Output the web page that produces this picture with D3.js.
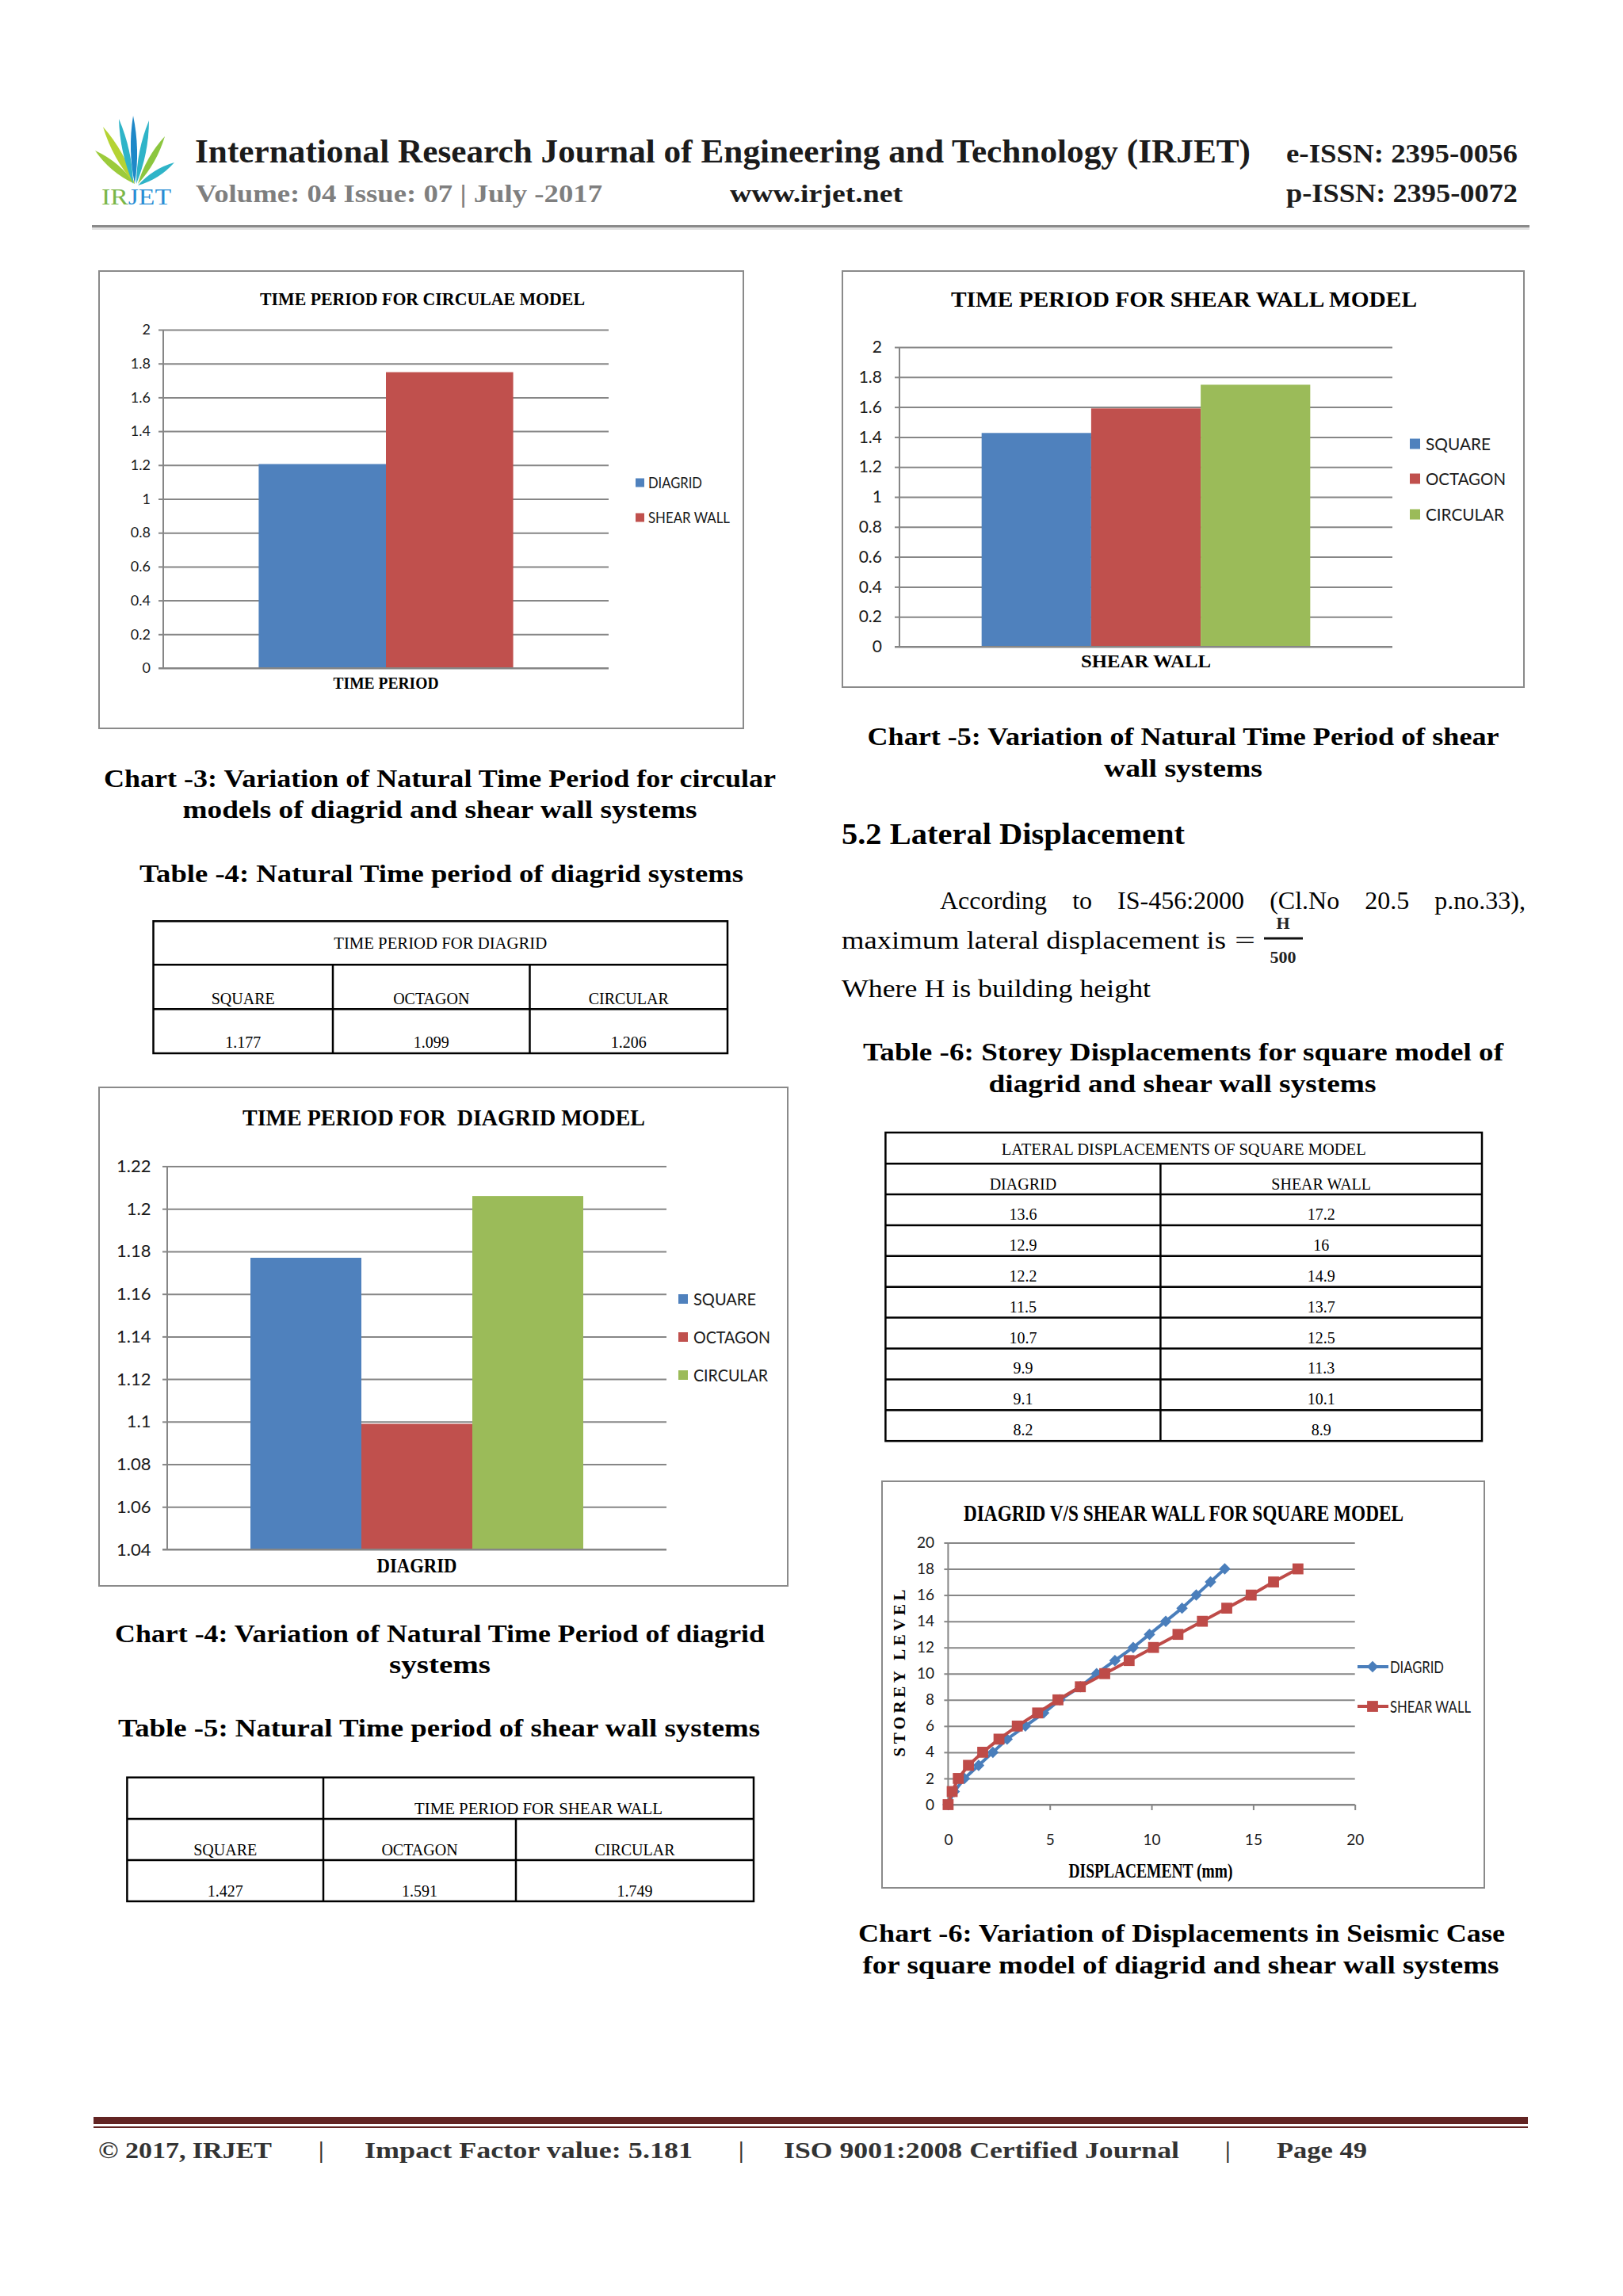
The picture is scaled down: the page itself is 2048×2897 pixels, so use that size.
<!DOCTYPE html>
<html><head><meta charset="utf-8">
<script src="https://cdn.jsdelivr.net/npm/d3@7"></script>
<style>
html,body{margin:0;padding:0;background:#fff;}
svg{display:block;}
text{white-space:pre;}
</style></head><body>
<svg id="page" width="2048" height="2897"></svg>
<script>
// ---------------- DATA ----------------
const circularCategories = ["TIME PERIOD"];
const circularSeries = ["DIAGRID", "SHEAR WALL"];
const circularValues = [1.206, 1.749];
const timeTicks = [0, 0.2, 0.4, 0.6, 0.8, 1, 1.2, 1.4, 1.6, 1.8, 2];

const shapeSeries = ["SQUARE", "OCTAGON", "CIRCULAR"];
const shearWallCategories = ["SHEAR WALL"];
const shearWallValues = [1.427, 1.591, 1.749];

const diagridCategories = ["DIAGRID"];
const diagridValues = [1.177, 1.099, 1.206];
const diagridTicks = [1.04, 1.06, 1.08, 1.1, 1.12, 1.14, 1.16, 1.18, 1.2, 1.22];

const storeyLevels = [0, 1, 2, 3, 4, 5, 6, 7, 8, 9, 10, 11, 12, 13, 14, 15, 16, 17, 18];
const diagridDisp = [0, 0.3, 0.8, 1.5, 2.2, 2.9, 3.8, 4.7, 5.5, 6.5, 7.3, 8.2, 9.1, 9.9, 10.7, 11.5, 12.2, 12.9, 13.6];
const shearWallDisp = [0, 0.2, 0.5, 1.0, 1.7, 2.5, 3.4, 4.4, 5.4, 6.5, 7.7, 8.9, 10.1, 11.3, 12.5, 13.7, 14.9, 16, 17.2];
const dispTicks = [0, 5, 10, 15, 20];
const storeyTicks = [0, 2, 4, 6, 8, 10, 12, 14, 16, 18, 20];
const lineSeries = ["DIAGRID", "SHEAR WALL"];

const table4Title = "TIME PERIOD FOR DIAGRID";
const table4Values = ["1.177", "1.099", "1.206"];
const table5Title = "TIME PERIOD FOR SHEAR WALL";
const table5Values = ["1.427", "1.591", "1.749"];
const table6Title = "LATERAL DISPLACEMENTS OF SQUARE MODEL";
const table6Diagrid = ["13.6", "12.9", "12.2", "11.5", "10.7", "9.9", "9.1", "8.2"];
const table6Shear = ["17.2", "16", "14.9", "13.7", "12.5", "11.3", "10.1", "8.9"];

// ---------------- STYLE ----------------
const SERIF = "'Liberation Serif','Times New Roman',serif";
const SANS = "Lato,'Liberation Sans',sans-serif";
const BAR_COLORS = ["#4f81bd", "#c0504d", "#9bbb59"];
const GRID = "#868686";

const svg = d3.select("#page");
svg.append("rect").attr("width", 2048).attr("height", 2897).attr("fill", "#fff");

function T(parent, str, x, y, o = {}) {
  const t = parent.append("text").attr("x", x).attr("y", y).text(str)
    .attr("font-family", o.font || SERIF).attr("font-size", o.size || 20)
    .attr("font-weight", o.bold ? "bold" : "normal").attr("fill", o.fill || "#000")
    .attr("text-anchor", o.anchor || "start");
  if (o.w) t.attr("textLength", o.w).attr("lengthAdjust", o.adjust || "spacingAndGlyphs");
  return t;
}

// ---------------- HEADER ----------------
const hdr = svg.append("g");
function leaf(bx, by, tx, ty, w, color) {
  const mx = (bx + tx) / 2, my = (by + ty) / 2;
  const dx = tx - bx, dy = ty - by, len = Math.hypot(dx, dy);
  const nx = -dy / len * w, ny = dx / len * w;
  hdr.append("path").attr("d", `M${bx},${by} Q${mx + nx},${my + ny} ${tx},${ty} Q${mx - nx},${my - ny} ${bx},${by}Z`).attr("fill", color);
}
leaf(170, 232, 120, 190, 9, "#9ccb3b");
leaf(170, 232, 130, 160, 9, "#b5d334");
leaf(168, 232, 150, 150, 8, "#2fb4c8");
leaf(170, 232, 168, 146, 8, "#1e88c8");
leaf(172, 232, 188, 152, 8, "#2fb4c8");
leaf(174, 232, 208, 172, 8, "#8cc63e");
leaf(174, 234, 220, 205, 8, "#2fb4c8");
const logoT = hdr.append("text").attr("x", 128).attr("y", 258).attr("font-family", SERIF).attr("font-size", 30).attr("textLength", 88).attr("lengthAdjust", "spacingAndGlyphs");
logoT.append("tspan").text("IR").attr("fill", "#7ab648");
logoT.append("tspan").text("JET").attr("fill", "#2a8dd4");

T(hdr, "International Research Journal of Engineering and Technology (IRJET)", 246, 205, {bold: true, size: 42, w: 1332, fill: "#1b1b1b"});
T(hdr, "e-ISSN: 2395-0056", 1623, 205, {bold: true, size: 33, w: 292, fill: "#1b1b1b"});
T(hdr, "Volume: 04 Issue: 07 | July -2017", 247, 255, {bold: true, size: 32, w: 513, fill: "#7f7f7f"});
T(hdr, "www.irjet.net", 921, 255, {bold: true, size: 32, w: 218, fill: "#1b1b1b"});
T(hdr, "p-ISSN: 2395-0072", 1623, 255, {bold: true, size: 33, w: 292, fill: "#1b1b1b"});
hdr.append("rect").attr("x", 116).attr("y", 287).attr("width", 1814).attr("height", 3).attr("fill", "#e3e3e3");
hdr.append("rect").attr("x", 116).attr("y", 284).attr("width", 1814).attr("height", 3).attr("fill", "#8a8a8a");

// ---------------- BAR CHARTS ----------------
function barChart(c) {
  const g = svg.append("g");
  g.append("rect").attr("x", c.box[0]).attr("y", c.box[1]).attr("width", c.box[2] - c.box[0]).attr("height", c.box[3] - c.box[1])
    .attr("fill", "#fff").attr("stroke", "#8a8a8a").attr("stroke-width", 2);
  const y = d3.scaleLinear().domain([c.ticks[0], c.ticks[c.ticks.length - 1]]).range([c.yBottom, c.yTop]);
  const xCat = d3.scaleBand().domain(c.categories).range([c.x0, c.x1]);
  const xSer = d3.scaleBand().domain(c.series).range([0, xCat.bandwidth()]).paddingInner(0).paddingOuter(0.75);
  g.append("g").attr("transform", `translate(${c.x0},0)`)
    .call(d3.axisLeft(y).tickValues(c.ticks).tickSize(-(c.x1 - c.x0)).tickFormat(""))
    .call(s => { s.select(".domain").remove(); s.selectAll("line").attr("stroke", GRID).attr("stroke-width", 2); });
  g.append("g").attr("transform", `translate(${c.x0},0)`)
    .call(d3.axisLeft(y).tickValues(c.ticks).tickSize(6).tickPadding(c.x0 - 6 - c.labelX).tickFormat(d => String(d)))
    .call(s => {
      s.select(".domain").remove();
      s.selectAll("line").attr("stroke", GRID).attr("stroke-width", 2);
      s.selectAll("text").attr("font-family", SANS).attr("font-size", c.tickSize).attr("fill", "#1a1a1a");
    });
  const rows = c.series.map((s, i) => ({s, v: c.values[i], cat: c.categories[0], i}));
  g.selectAll("rect.bar").data(rows).join("rect").attr("class", "bar")
    .attr("x", d => xCat(d.cat) + xSer(d.s)).attr("width", xSer.bandwidth())
    .attr("y", d => y(d.v)).attr("height", d => y(c.ticks[0]) - y(d.v))
    .attr("fill", d => BAR_COLORS[d.i]);
  g.append("line").attr("x1", c.x0).attr("x2", c.x0).attr("y1", c.yTop).attr("y2", c.yBottom).attr("stroke", GRID).attr("stroke-width", 2);
  g.append("line").attr("x1", c.x0 - 6).attr("x2", c.x1).attr("y1", c.yBottom).attr("y2", c.yBottom).attr("stroke", GRID).attr("stroke-width", 2);
  T(g, c.title, c.titleX, c.titleY, {bold: true, size: c.titleSize, w: c.titleW, anchor: "middle"});
  T(g, c.categories[0], xCat(c.categories[0]) + xCat.bandwidth() / 2, c.xLabelY, {bold: true, size: c.xLabelSize, w: c.xLabelW, anchor: "middle"});
  c.series.forEach((s, i) => {
    const cy = c.legendY[i];
    g.append("rect").attr("x", c.legendX).attr("y", cy - c.legendSq / 2).attr("width", c.legendSq).attr("height", c.legendSq).attr("fill", BAR_COLORS[i]);
    T(g, s, c.legendTextX, cy + c.legendSize * 0.36, {font: SANS, size: c.legendSize, w: c.legendW[i], fill: "#1a1a1a"});
  });
}

barChart({
  box: [125, 342, 938, 919], x0: 206, x1: 768, yTop: 416, yBottom: 843,
  ticks: timeTicks, labelX: 190, tickSize: 18,
  categories: circularCategories, series: circularSeries, values: circularValues,
  title: "TIME PERIOD FOR CIRCULAE MODEL", titleX: 533, titleY: 385, titleSize: 24, titleW: 410,
  xLabelY: 869, xLabelSize: 22, xLabelW: 133,
  legendX: 802, legendTextX: 818, legendY: [609, 653], legendSq: 11, legendSize: 19, legendW: [68, 103]
});

barChart({
  box: [1063, 342, 1923, 867], x0: 1135, x1: 1757, yTop: 438, yBottom: 816,
  ticks: timeTicks, labelX: 1113, tickSize: 21,
  categories: shearWallCategories, series: shapeSeries, values: shearWallValues,
  title: "TIME PERIOD FOR SHEAR WALL MODEL", titleX: 1494, titleY: 387, titleSize: 28, titleW: 588,
  xLabelY: 842, xLabelSize: 23, xLabelW: 164,
  legendX: 1779, legendTextX: 1799, legendY: [560, 604, 649], legendSq: 13, legendSize: 21, legendW: [82, 101, 99]
});

barChart({
  box: [125, 1372, 994, 2001], x0: 211, x1: 841, yTop: 1471.5, yBottom: 1955,
  ticks: diagridTicks, labelX: 190.5, tickSize: 22,
  categories: diagridCategories, series: shapeSeries, values: diagridValues,
  title: "TIME PERIOD FOR  DIAGRID MODEL", titleX: 560, titleY: 1420, titleSize: 29, titleW: 508,
  xLabelY: 1984, xLabelSize: 25, xLabelW: 101,
  legendX: 856, legendTextX: 875, legendY: [1639, 1687, 1735], legendSq: 12, legendSize: 21, legendW: [79, 97, 94]
});

// ---------------- LINE CHART ----------------
(function () {
  const g = svg.append("g");
  g.append("rect").attr("x", 1113).attr("y", 1869).attr("width", 760).attr("height", 513).attr("fill", "#fff").attr("stroke", "#8a8a8a").attr("stroke-width", 2);
  const x = d3.scaleLinear().domain([dispTicks[0], dispTicks[dispTicks.length - 1]]).range([1196.4, 1709.7]);
  const y = d3.scaleLinear().domain([storeyTicks[0], storeyTicks[storeyTicks.length - 1]]).range([2277, 1946.5]);
  g.append("g").attr("transform", `translate(${x(0)},0)`)
    .call(d3.axisLeft(y).tickValues(storeyTicks).tickSize(-(x(20) - x(0))).tickFormat(""))
    .call(s => { s.select(".domain").remove(); s.selectAll("line").attr("stroke", GRID).attr("stroke-width", 2); });
  g.append("g").attr("transform", `translate(${x(0)},0)`)
    .call(d3.axisLeft(y).tickValues(storeyTicks).tickSize(5).tickPadding(x(0) - 5 - 1179).tickFormat(d => String(d)))
    .call(s => {
      s.select(".domain").remove();
      s.selectAll("line").attr("stroke", GRID).attr("stroke-width", 2);
      s.selectAll("text").attr("font-family", SANS).attr("font-size", 19).attr("fill", "#1a1a1a");
    });
  g.append("g").attr("transform", `translate(0,${y(0)})`)
    .call(d3.axisBottom(x).tickValues(dispTicks).tickSize(7).tickPadding(2328 - 2277 - 7 - 0.71 * 19).tickFormat(d => String(d)))
    .call(s => {
      s.select(".domain").remove();
      s.selectAll("line").attr("stroke", GRID).attr("stroke-width", 2);
      s.selectAll("text").attr("font-family", SANS).attr("font-size", 19).attr("fill", "#1a1a1a");
    });
  g.append("line").attr("x1", x(0)).attr("x2", x(0)).attr("y1", y(20)).attr("y2", y(0)).attr("stroke", GRID).attr("stroke-width", 2);
  g.append("line").attr("x1", x(0) - 5).attr("x2", x(20)).attr("y1", y(0)).attr("y2", y(0)).attr("stroke", GRID).attr("stroke-width", 2);

  const LC = ["#4a7ebb", "#be4b48"];
  const series = [diagridDisp, shearWallDisp];
  const line = d3.line().x(d => x(d[0])).y(d => y(d[1]));
  const diamond = d3.symbol(d3.symbolSquare, 105);
  const square = d3.symbol(d3.symbolSquare, 190);
  series.forEach((vals, si) => {
    const pts = vals.map((v, i) => [v, storeyLevels[i]]);
    g.append("path").attr("d", line(pts)).attr("fill", "none").attr("stroke", LC[si]).attr("stroke-width", 4).attr("stroke-linejoin", "round");
    g.selectAll(null).data(pts).join("path")
      .attr("d", si === 0 ? diamond() : square())
      .attr("transform", d => `translate(${x(d[0])},${y(d[1])})` + (si === 0 ? " rotate(45)" : ""))
      .attr("fill", LC[si]);
  });
  const legY = [2103, 2153], legW = [68, 102];
  lineSeries.forEach((s, i) => {
    g.append("line").attr("x1", 1713).attr("x2", 1752).attr("y1", legY[i]).attr("y2", legY[i]).attr("stroke", LC[i]).attr("stroke-width", 4);
    g.append("path").attr("d", i === 0 ? diamond() : square()).attr("transform", `translate(1732,${legY[i]})` + (i === 0 ? " rotate(45)" : "")).attr("fill", LC[i]);
    T(g, s, 1754, legY[i] + 8, {font: SANS, size: 22, w: legW[i], fill: "#1a1a1a"});
  });
  T(g, "DIAGRID V/S SHEAR WALL FOR SQUARE MODEL", 1493.5, 1919, {bold: true, size: 30, w: 555, anchor: "middle"});
  T(g, "DISPLACEMENT (mm)", 1452, 2369, {bold: true, size: 25, w: 207, anchor: "middle"});
  T(g, "STOREY LEVEL", 0, 0, {bold: true, size: 21, w: 211, adjust: "spacing", anchor: "middle"})
    .attr("transform", "translate(1142,2111) rotate(-90)");
})();

// ---------------- TABLES ----------------
function hline(g, x1, x2, y) { g.append("line").attr("x1", x1).attr("x2", x2).attr("y1", y).attr("y2", y).attr("stroke", "#000").attr("stroke-width", 2.5); }
function vline(g, x, y1, y2) { g.append("line").attr("x1", x).attr("x2", x).attr("y1", y1).attr("y2", y2).attr("stroke", "#000").attr("stroke-width", 2.5); }

(function () {
  const g = svg.append("g");
  const L = 193.5, R = 918, ys = [1162.3, 1217.3, 1273.3, 1329], cx = [420, 668.5];
  g.append("rect").attr("x", L).attr("y", ys[0]).attr("width", R - L).attr("height", ys[3] - ys[0]).attr("fill", "none").attr("stroke", "#000").attr("stroke-width", 2.5);
  hline(g, L, R, ys[1]); hline(g, L, R, ys[2]);
  cx.forEach(x => vline(g, x, ys[1], ys[3]));
  T(g, table4Title, (L + R) / 2, 1197, {size: 20, w: 269, anchor: "middle"});
  const edges = [L, cx[0], cx[1], R];
  shapeSeries.forEach((s, i) => {
    const mid = (edges[i] + edges[i + 1]) / 2;
    T(g, s, mid, 1267, {size: 20, anchor: "middle"});
    T(g, table4Values[i], mid, 1322, {size: 20, anchor: "middle"});
  });
})();

(function () {
  const g = svg.append("g");
  const L = 160.4, R = 951, ys = [2242.7, 2295, 2347, 2399], c1 = 408, c2 = 651;
  g.append("rect").attr("x", L).attr("y", ys[0]).attr("width", R - L).attr("height", ys[3] - ys[0]).attr("fill", "none").attr("stroke", "#000").attr("stroke-width", 2.5);
  hline(g, L, R, ys[1]); hline(g, L, R, ys[2]);
  vline(g, c1, ys[0], ys[3]); vline(g, c2, ys[1], ys[3]);
  T(g, table5Title, (c1 + R) / 2, 2289, {size: 20, w: 313, anchor: "middle"});
  const edges = [L, c1, c2, R];
  shapeSeries.forEach((s, i) => {
    const mid = (edges[i] + edges[i + 1]) / 2;
    T(g, s, mid, 2341, {size: 20, anchor: "middle"});
    T(g, table5Values[i], mid, 2393, {size: 20, anchor: "middle"});
  });
})();

(function () {
  const g = svg.append("g");
  const L = 1117.4, R = 1870, top = 1429, h1 = 1468.2, h2 = 1507, rh = 38.9, C = 1464.4;
  const bottom = h2 + rh * table6Diagrid.length;
  g.append("rect").attr("x", L).attr("y", top).attr("width", R - L).attr("height", bottom - top).attr("fill", "none").attr("stroke", "#000").attr("stroke-width", 2.5);
  hline(g, L, R, h1); hline(g, L, R, h2);
  for (let i = 1; i < table6Diagrid.length; i++) hline(g, L, R, h2 + rh * i);
  vline(g, C, h1, bottom);
  T(g, table6Title, (L + R) / 2, 1457, {size: 20, w: 460, anchor: "middle"});
  T(g, lineSeries[0], (L + C) / 2, 1501, {size: 20, anchor: "middle"});
  T(g, lineSeries[1], (C + R) / 2, 1501, {size: 20, anchor: "middle"});
  table6Diagrid.forEach((v, i) => {
    const by = h2 + rh * (i + 1) - 7;
    T(g, v, (L + C) / 2, by, {size: 20, anchor: "middle"});
    T(g, table6Shear[i], (C + R) / 2, by, {size: 20, anchor: "middle"});
  });
})();

// ---------------- BODY TEXT ----------------
const body = svg.append("g");
T(body, "Chart -3: Variation of Natural Time Period for circular", 555, 993, {bold: true, size: 32, w: 848, anchor: "middle"});
T(body, "models of diagrid and shear wall systems", 555, 1032, {bold: true, size: 32, w: 649, anchor: "middle"});
T(body, "Table -4: Natural Time period of diagrid systems", 557, 1113, {bold: true, size: 32, w: 762, anchor: "middle"});
T(body, "Chart -4: Variation of Natural Time Period of diagrid", 555, 2072, {bold: true, size: 32, w: 820, anchor: "middle"});
T(body, "systems", 555, 2111, {bold: true, size: 32, w: 128, anchor: "middle"});
T(body, "Table -5: Natural Time period of shear wall systems", 554, 2191, {bold: true, size: 32, w: 810, anchor: "middle"});

T(body, "Chart -5: Variation of Natural Time Period of shear", 1493, 940, {bold: true, size: 32, w: 797, anchor: "middle"});
T(body, "wall systems", 1493, 980, {bold: true, size: 32, w: 200, anchor: "middle"});
T(body, "5.2 Lateral Displacement", 1062, 1065, {bold: true, size: 37, w: 433});
(function () {
  const t = T(body, "According to IS-456:2000 (Cl.No 20.5 p.no.33),", 1186, 1147, {size: 32});
  const nat = t.node().getComputedTextLength();
  t.attr("word-spacing", (1925 - 1186 - nat) / 5);
})();
T(body, "maximum lateral displacement is", 1062, 1197, {size: 32, w: 485});
T(body, "=", 1558, 1197, {size: 32, w: 26});
T(body, "H", 1619, 1172, {bold: true, size: 22, anchor: "middle", fill: "#222"});
body.append("line").attr("x1", 1595).attr("x2", 1644).attr("y1", 1184).attr("y2", 1184).attr("stroke", "#111").attr("stroke-width", 3);
T(body, "500", 1619, 1215, {bold: true, size: 22, anchor: "middle", fill: "#222"});
T(body, "Where H is building height", 1062, 1258, {size: 32, w: 390});
T(body, "Table -6: Storey Displacements for square model of", 1493, 1338, {bold: true, size: 32, w: 808, anchor: "middle"});
T(body, "diagrid and shear wall systems", 1492, 1378, {bold: true, size: 32, w: 489, anchor: "middle"});
T(body, "Chart -6: Variation of Displacements in Seismic Case", 1491, 2450, {bold: true, size: 32, w: 816, anchor: "middle"});
T(body, "for square model of diagrid and shear wall systems", 1490, 2490, {bold: true, size: 32, w: 803, anchor: "middle"});

// ---------------- FOOTER ----------------
const ft = svg.append("g");
ft.append("rect").attr("x", 118).attr("y", 2671).attr("width", 1810).attr("height", 9).attr("fill", "#622423");
ft.append("rect").attr("x", 118).attr("y", 2683).attr("width", 1810).attr("height", 2).attr("fill", "#622423");
const FC = "#333";
T(ft, "© 2017, IRJET", 124, 2723, {bold: true, size: 30, w: 219, fill: FC});
T(ft, "|", 402, 2723, {bold: true, size: 30, fill: FC});
T(ft, "Impact Factor value: 5.181", 460, 2723, {bold: true, size: 30, w: 414, fill: FC});
T(ft, "|", 932, 2723, {bold: true, size: 30, fill: FC});
T(ft, "ISO 9001:2008 Certified Journal", 989, 2723, {bold: true, size: 30, w: 499, fill: FC});
T(ft, "|", 1546, 2723, {bold: true, size: 30, fill: FC});
T(ft, "Page 49", 1611, 2723, {bold: true, size: 30, w: 114, fill: FC});
</script>
</body></html>
